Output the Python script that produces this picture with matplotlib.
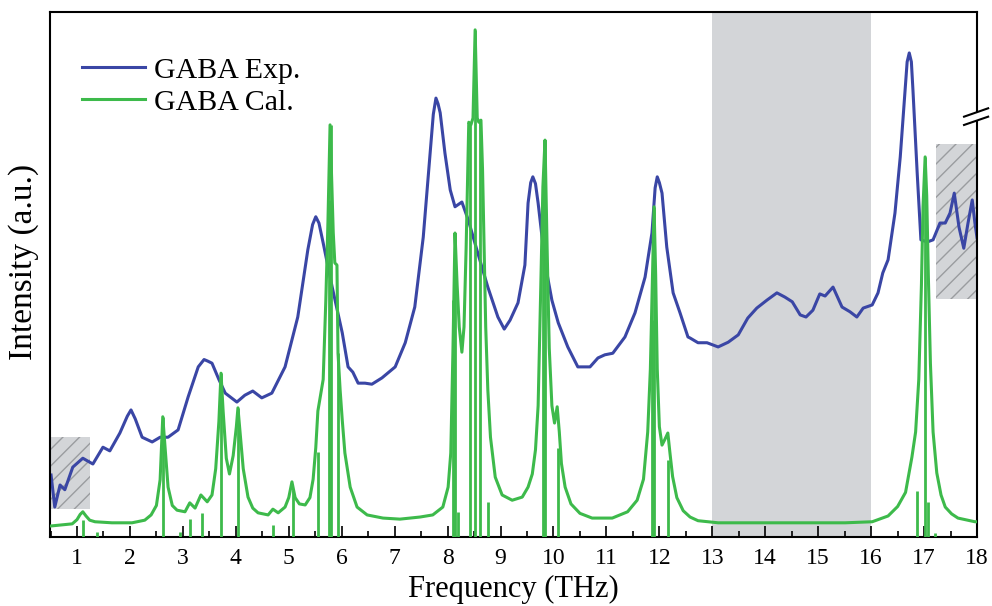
import matplotlib
matplotlib.use("Agg")
import matplotlib.pyplot as plt
from matplotlib.patches import Rectangle, Polygon
from matplotlib.ticker import MultipleLocator

plt.rcParams['font.family'] = ['Liberation Serif', 'DejaVu Serif']

# Experimental spectrum (THz, a.u.)
exp_freq = [0.51, 0.58, 0.68, 0.77, 0.92, 1.11, 1.30, 1.49, 1.62, 1.81, 1.95, 2.02, 2.10, 2.23,
            2.42, 2.57, 2.72, 2.91, 3.10, 3.29, 3.40, 3.47, 3.55, 3.68, 3.80, 4.02, 4.17, 4.32,
            4.49, 4.68, 4.93, 5.17, 5.36, 5.45, 5.51, 5.57, 5.65, 5.82, 6.01, 6.12, 6.21, 6.31,
            6.44, 6.57, 6.76, 7.01, 7.20, 7.38, 7.54, 7.67, 7.73, 7.78, 7.82, 7.86, 7.95, 8.05,
            8.14, 8.27, 8.39, 8.57, 8.76, 8.95, 9.07, 9.18, 9.33, 9.46, 9.52, 9.57, 9.61, 9.66,
            9.71, 9.84, 9.97, 10.09, 10.27, 10.46, 10.69, 10.84, 10.97, 11.12, 11.35, 11.54,
            11.73, 11.86, 11.92, 11.96, 12.00, 12.05, 12.14, 12.26, 12.39, 12.54, 12.58, 12.73,
            12.90, 13.11, 13.30, 13.49, 13.67, 13.84, 14.03, 14.22, 14.37, 14.51, 14.66, 14.77,
            14.90, 15.03, 15.13, 15.28, 15.45, 15.60, 15.73, 15.85, 16.02, 16.13, 16.22, 16.32,
            16.45, 16.55, 16.64, 16.68, 16.72, 16.76, 16.79, 16.87, 16.94, 17.06, 17.17, 17.30,
            17.40, 17.49, 17.57, 17.66, 17.75, 17.83, 17.91, 17.96, 18.0]
exp_int = [11.8, 5.7, 9.9, 9.0, 13.3, 15.0, 13.9, 17.1, 16.4, 19.8, 23.0, 24.2, 22.5, 19.0,
           18.1, 19.0, 19.0, 20.4, 26.7, 32.4, 33.8, 33.5, 33.1, 30.0, 27.4, 25.7, 27.0, 27.8,
           26.5, 27.4, 32.4, 41.9, 54.7, 59.5, 61.0, 59.8, 56.0, 47.6, 38.9, 32.4, 31.4, 29.3,
           29.3, 29.1, 30.3, 32.4, 37.0, 43.8, 57.1, 73.1, 80.5, 83.6, 82.5, 80.8, 73.1, 66.1,
           62.9, 63.8, 60.4, 54.1, 47.6, 41.9, 39.6, 41.3, 44.6, 51.8, 63.6, 67.5, 68.6, 67.3,
           63.6, 52.2, 45.1, 40.8, 36.2, 32.4, 32.4, 34.1, 34.7, 35.0, 38.1, 42.7,
           49.5, 57.9, 66.5, 68.6, 67.5, 65.5, 55.2, 46.5, 42.7, 38.1, 37.9, 37.0,
           37.0, 36.2, 37.1, 38.5, 41.7, 43.6, 45.1, 46.5, 45.7, 44.8, 42.3, 41.9,
           43.2, 46.3, 45.9, 47.6, 43.8, 42.9, 41.9, 43.6, 44.2, 46.5, 50.3, 52.8,
           61.7, 72.4, 85.1, 90.5, 92.2, 90.5, 85.1, 69.3, 56.6, 56.2, 56.6, 59.8,
           59.8, 61.7, 65.5, 59.0, 55.0, 59.8, 64.2, 59.8, 57.0]

# Calculated (broadened) spectrum
cal_freq = [0.51, 0.91, 1.00, 1.06, 1.11, 1.17, 1.24, 1.34, 1.66, 2.04, 2.28, 2.40, 2.50, 2.57,
            2.62, 2.66, 2.72, 2.80, 2.89, 3.04, 3.13, 3.23, 3.34, 3.46, 3.55, 3.62, 3.68, 3.72,
            3.76, 3.82, 3.88, 3.95, 4.01, 4.04, 4.08, 4.14, 4.23, 4.32, 4.42, 4.61, 4.70, 4.80,
            4.93, 5.00, 5.06, 5.12, 5.20, 5.31, 5.40, 5.46, 5.51, 5.55, 5.60, 5.65, 5.70, 5.74,
            5.78, 5.81, 5.84, 5.87, 5.91, 5.93, 5.97, 6.01, 6.06, 6.16, 6.29, 6.48, 6.78, 7.10,
            7.48, 7.72, 7.91, 8.01, 8.06, 8.10, 8.14, 8.18, 8.22, 8.27, 8.31, 8.35, 8.38, 8.40,
            8.44, 8.48, 8.52, 8.56, 8.59, 8.63, 8.66, 8.69, 8.72, 8.76, 8.81, 8.90, 9.03, 9.22,
            9.41, 9.52, 9.60, 9.66, 9.71, 9.76, 9.80, 9.84, 9.88, 9.92, 9.97, 10.02, 10.07,
            10.11, 10.15, 10.22, 10.33, 10.50, 10.73, 11.11, 11.40, 11.58, 11.70, 11.78, 11.83,
            11.87, 11.90, 11.93, 11.96, 12.00, 12.05, 12.10, 12.16, 12.20, 12.25, 12.33, 12.45,
            12.58, 12.73, 13.11, 14.66, 15.51, 16.02, 16.32, 16.50, 16.65, 16.77, 16.84, 16.90,
            16.95, 16.98, 17.02, 17.05, 17.08, 17.12, 17.17, 17.24, 17.32, 17.40, 17.52, 17.64,
            17.96, 18.0]
cal_int = [2.1, 2.5, 3.3, 4.3, 4.8, 4.0, 3.2, 2.9, 2.7, 2.7, 3.2, 4.2, 6.0, 10.9,
           22.9, 17.5, 9.5, 6.0, 5.1, 4.8, 6.5, 5.5, 8.0, 6.7, 8.0, 13.0, 22.0, 31.2,
           24.0, 15.0, 12.0, 15.5, 21.0, 24.6, 20.0, 13.0, 7.6, 5.5, 4.6, 4.2, 5.3, 4.6,
           5.7, 7.5, 10.5, 7.5, 6.3, 6.1, 7.5, 11.0, 17.0, 24.0, 27.0, 30.0, 45.1, 60.0,
           78.5, 68.0, 58.0, 52.2, 51.8, 35.0, 28.0, 22.3, 16.0, 9.5, 5.7, 4.2, 3.6, 3.4,
           3.8, 4.2, 5.7, 9.5, 16.0, 35.0, 57.9, 48.0, 40.0, 35.2, 40.0, 55.0, 70.0, 79.0,
           78.5, 79.8, 96.6, 79.8, 79.0, 79.4, 70.0, 55.0, 40.0, 28.0, 19.0, 11.4, 8.0, 7.0,
           7.6, 9.5, 12.0, 16.6, 25.0, 47.6, 66.7, 75.6, 55.0, 36.0, 25.0, 21.7, 24.8,
           20.0, 14.0, 9.5, 6.3, 4.5, 3.6, 3.6, 4.8, 7.0, 11.0, 20.0, 32.0,
           50.0, 62.9, 50.0, 32.0, 21.0, 17.5, 18.5, 19.8, 16.0, 11.5, 7.5, 5.0,
           3.8, 3.1, 2.7, 2.7, 2.7, 2.9, 4.0, 5.8, 8.5, 15.2, 20.0, 30.0,
           48.0, 62.9, 72.4, 65.0, 50.0, 33.0, 20.0, 12.2, 8.0, 5.7, 4.4, 3.6,
           2.9, 2.9]

# Calculated modes (sticks)
stick_freq = [1.11, 1.38, 2.62, 2.95, 3.13, 3.36, 3.72, 4.04, 4.70, 5.08, 5.55, 5.76, 5.79,
              5.93, 8.10, 8.14, 8.20, 8.42, 8.52, 8.61, 8.76, 9.80, 9.84, 10.09, 11.86, 11.90,
              12.16, 16.87, 17.02, 17.07, 17.20]
stick_int = [3.2, 1.0, 22.9, 1.0, 3.4, 4.6, 31.2, 24.6, 2.3, 9.0, 16.2, 64.2, 78.5,
             35.0, 45.1, 57.9, 4.8, 79.0, 96.6, 79.0, 6.7, 66.7, 75.6, 17.0, 41.3, 62.9,
             14.7, 8.8, 72.4, 6.7, 0.8]

blue = '#3a46a5'
green = '#3dba4b'
grey = '#d3d5d8'

fig = plt.figure(figsize=(9.92, 6.06), dpi=100)
ax = fig.add_axes([0.0504, 0.1139, 0.9345, 0.8663])

ax.axvspan(13, 16, color=grey, lw=0, zorder=0)
ax.add_patch(Rectangle((0.49, 5.3), 1.245 - 0.49, 13.7, facecolor=grey, edgecolor='#9a9c9f',
                       hatch='//', lw=0, zorder=0.5))
ax.add_patch(Rectangle((17.23, 45.3), 0.77, 29.6, facecolor=grey, edgecolor='#9a9c9f',
                       hatch='//', lw=0, zorder=0.5))

ax.plot(exp_freq, exp_int, color=blue, lw=2.2, label='GABA Exp.', zorder=2,
        solid_joinstyle='round')
ax.plot(cal_freq, cal_int, color=green, lw=2.2, label='GABA Cal.', zorder=3,
        solid_joinstyle='round')
ax.vlines(stick_freq, 0, stick_int, color=green, lw=2.0, zorder=3)

ax.set_xlim(0.49, 18.0)
ax.set_ylim(0, 100)
ax.set_yticks([])
ax.xaxis.set_major_locator(MultipleLocator(1))
ax.xaxis.set_minor_locator(MultipleLocator(0.5))
ax.tick_params(axis='x', which='major', direction='in', length=8, width=1.2, labelsize=17, pad=8)
ax.tick_params(axis='x', which='minor', direction='in', length=4, width=1.2)
for s in ax.spines.values():
    s.set_linewidth(1.5)

ax.set_xlabel('Frequency (THz)', fontsize=22, labelpad=4)
ax.set_ylabel('Intensity (a.u.)', fontsize=24)
ax.yaxis.set_label_coords(-0.012, 0.524)

# axis break on the right spine
ax.add_patch(Polygon([(0.986, 0.7848), (1.012, 0.8006), (1.012, 0.8166), (0.986, 0.8006)],
                     closed=True, transform=ax.transAxes, facecolor='white', edgecolor='none',
                     clip_on=False, zorder=5))
ax.plot([0.986, 1.012], [0.8006, 0.8166], transform=ax.transAxes, color='black', lw=1.5,
        clip_on=False, zorder=6)
ax.plot([0.986, 1.012], [0.7848, 0.8006], transform=ax.transAxes, color='black', lw=1.5,
        clip_on=False, zorder=6)

ax.legend(loc='upper left', bbox_to_anchor=(0.0345, 0.915), frameon=False, fontsize=21.5,
          handlelength=2.1, handletextpad=0.3, labelspacing=0.17, borderpad=0, borderaxespad=0)

fig.savefig('out.png', dpi=100)
